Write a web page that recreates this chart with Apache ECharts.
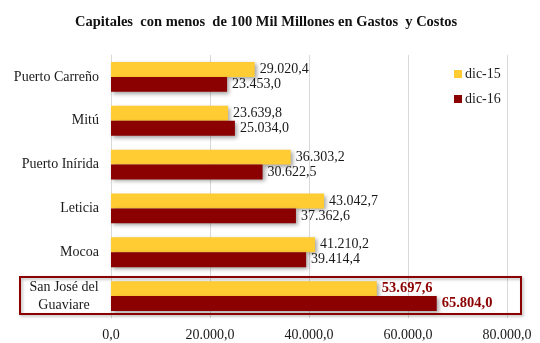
<!DOCTYPE html>
<html>
<head>
<meta charset="utf-8">
<script src="https://cdn.jsdelivr.net/npm/echarts@6/dist/echarts.min.js"></script>
<style>
  html, body { margin: 0; padding: 0; background: #fff; }
  #chart { width: 540px; height: 343px; }
</style>
</head>
<body>
<div id="chart"></div>
<script>
// Capitales con menos de 100 mil millones: gastos y costos (dic-15 vs dic-16)
const categories = ['Puerto Carreño', 'Mitú', 'Puerto Inírida', 'Leticia', 'Mocoa', 'San José del Guaviare'];
const seriesNames = ['dic-15', 'dic-16'];
const dic15 = [29020.4, 23639.8, 36303.2, 43042.7, 41210.2, 53697.6];
const dic16 = [23453.0, 25034.0, 30622.5, 37362.6, 39414.4, 65804.0];
const xTicks = [0, 20000, 40000, 60000, 80000];
const highlightCategory = 'San José del Guaviare';

const YELLOW = '#FFCC33';
const DARKRED = '#8B0000';
const FONT = '"Liberation Serif", "Times New Roman", serif';

// Spanish number format: 53.697,6
function fmt(v) {
  const fixed = Number(v).toFixed(1);
  const [intPart, dec] = fixed.split('.');
  return intPart.replace(/\B(?=(\d{3})+(?!\d))/g, '.') + ',' + dec;
}

const chart = echarts.init(document.getElementById('chart'), null, { renderer: 'canvas' });

function barSeries(name, values, color) {
  return {
    name: name,
    type: 'bar',
    data: values.map((v, i) => {
      const hi = categories[i] === highlightCategory;
      return {
        value: v,
        label: hi ? { color: DARKRED, fontWeight: 'bold', fontSize: 14.5 } : undefined
      };
    }),
    barGap: '0%',
    barCategoryGap: '32%',
    itemStyle: {
      color: color,
      shadowColor: 'rgba(0,0,0,0.35)',
      shadowBlur: 4,
      shadowOffsetX: 2,
      shadowOffsetY: 2
    },
    label: {
      show: true,
      position: 'right',
      distance: 5,
      fontFamily: FONT,
      fontSize: 14,
      color: '#1a1a1a',
      formatter: p => fmt(p.value)
    }
  };
}

const option = {
  animation: false,
  backgroundColor: '#fff',
  title: {
    text: 'Capitales  con menos  de 100 Mil Millones en Gastos  y Costos',
    left: 70,
    top: 10,
    textStyle: { fontFamily: FONT, fontSize: 14.5, fontWeight: 'bold', color: '#111' }
  },
  legend: {
    data: seriesNames,
    orient: 'vertical',
    left: 449,
    top: 62,
    itemWidth: 8,
    itemHeight: 8,
    itemGap: 11,
    icon: 'rect',
    textStyle: { fontFamily: FONT, fontSize: 14, color: '#1a1a1a', padding: [0, 0, 0, -2] }
  },
  grid: { left: 111, right: 33, top: 55, bottom: 25, containLabel: false },
  xAxis: {
    type: 'value',
    min: 0,
    max: 80000,
    interval: 20000,
    axisLine: { show: false },
    axisTick: { show: false },
    splitLine: { show: true, lineStyle: { color: '#d9d9d9', width: 1 } },
    axisLabel: {
      margin: 10,
      fontFamily: FONT,
      fontSize: 14,
      color: '#1a1a1a',
      customValues: xTicks,
      formatter: v => fmt(v)
    }
  },
  yAxis: {
    type: 'category',
    data: categories,
    inverse: true,
    axisLine: { show: true, lineStyle: { color: '#d9d9d9' } },
    axisTick: { show: false },
    axisLabel: {
      margin: 12,
      fontFamily: FONT,
      fontSize: 14,
      color: '#1a1a1a',
      formatter: v => v === highlightCategory ? '{c|San José del}\n{c|Guaviare}' : v,
      rich: {
        c: { width: 70, align: 'center', fontFamily: FONT, fontSize: 14, color: '#1a1a1a', lineHeight: 18 }
      }
    }
  },
  series: [barSeries(seriesNames[0], dic15, YELLOW), barSeries(seriesNames[1], dic16, DARKRED)]
};

chart.setOption(option);

// Frame around the highlighted row, placed from the axis scales
const idx = categories.indexOf(highlightCategory);
const yCenter = chart.convertToPixel({ yAxisIndex: 0 }, idx);
const xRight = chart.convertToPixel({ xAxisIndex: 0 }, 80000) + 14;
chart.setOption({
  graphic: [{
    type: 'rect',
    shape: { x: 20, y: yCenter - 19, width: xRight - 20, height: 37 },
    style: {
      fill: 'none',
      stroke: DARKRED,
      lineWidth: 2,
      shadowColor: 'rgba(0,0,0,0.3)',
      shadowBlur: 3,
      shadowOffsetX: 1.5,
      shadowOffsetY: 1.5
    },
    z: 10
  }]
});
</script>
</body>
</html>
